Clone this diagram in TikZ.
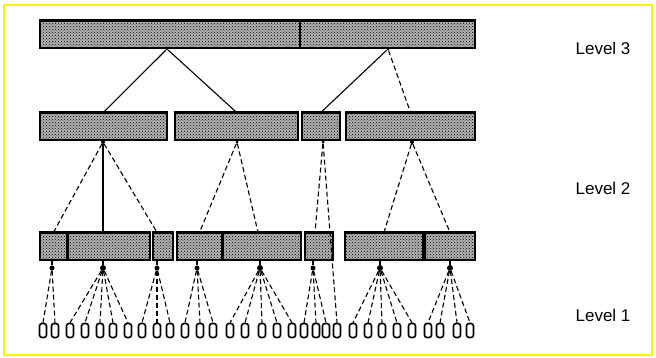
\documentclass[tikz,border=0pt]{standalone}
\usepackage{fontspec}
\setmainfont{Liberation Sans}
\usetikzlibrary{patterns, calc}

\begin{document}
\begin{tikzpicture}[x=1pt, y=-1pt,
    blk/.style={draw, line width=1.3pt, preaction={fill=black!30}, pattern=crosshatch dots, inner sep=0pt, minimum height=27pt},
    port/.style={circle, fill, inner sep=0pt, minimum size=#1},
    leaf/.style={draw, line width=1.6pt, rounded corners=2.5pt, inner sep=0pt, minimum width=7pt, minimum height=14pt},
    ptr/.style={line width=1.1pt},
    dptr/.style={line width=1.1pt, dash pattern=on 5pt off 3pt},
    lvl/.style={font=\fontsize{17}{17}\selectfont}]
  \useasboundingbox (0,0) rectangle (656,358);
  \draw[yellow, line width=2pt] (4,5) rectangle (652,355);
  \foreach \n/\l/\r/\t in {t3a/40/300/21, t3b/300/475/21,
      t2a/40/167/113, t2b/175/298/113, t2c/302/340/113, t2d/346/475/113,
      t1a/40/67/233, t1b/68/150/233, t1c/153/173/233, t1d/177/222/233,
      t1e/223/301/233, t1f/305/333/233, t1g/345/423/233, t1h/425/475/233} {
    \node[blk, minimum width={\r-\l}] (\n) at ({(\l+\r)/2},\t+13.5) {};
    \draw[line width=3pt] (\n.north west) -- (\n.north east);
  }
  \foreach \n/\x/\y/\s in {p3a/167/49/3pt, p3b/388/49/3pt,
      p2a/103/142/4pt, p2b/237/142/3pt, p2c/323/142/3pt, p2d/412/142/4pt,
      p1a/52/268/5pt, p1b/103/268/6pt, p1c/157/268/5pt, p1d/197/268/5pt,
      p1e/260/268/6pt, p1f/313/268/5pt, p1g/380/268/6pt, p1h/450/268/6pt}
    \node[port=\s] (\n) at (\x,\y) {};
  \foreach \x [count=\i] in {43,55,70,85,100,113,128,142,157,170,185,200,213,230,245,262,
      277,292,304,316,326,337,353,368,382,397,412,428,440,457,470}
    \node[leaf] (f\i) at (\x,330.5) {};
  % level 3 to level 2
  \draw[ptr] (p3a) -- (t2a.north);
  \draw[ptr] (p3a) -- (t2b.north);
  \draw[ptr] (p3b) -- (t2c.north);
  \draw[dptr] (p3b) -- (t2d.north);
  % level 2 to level 1
  \draw[dptr] (p2a) -- (t1a.north);
  \draw[ptr] (p2a) -- (p2a |- t1b.north);
  \draw[dptr] (p2a) -- ([xshift=-6pt]t1c.north);
  \draw[dptr] (p2b) -- (t1d.north);
  \draw[dptr] (p2b) -- ([xshift=-4pt]t1e.north);
  \draw[dptr] (p2c) -- ([xshift=-4pt]t1f.north);
  \draw[dptr] (p2c) -- (f22.north);
  \draw[dptr] (p2d) -- (t1g.north);
  \draw[dptr] (p2d) -- (t1h.north);
  % level 1 to leaves
  \foreach \p/\t/\a/\b in {p1a/t1a/1/2, p1b/t1b/3/7, p1c/t1c/8/10, p1d/t1d/11/13,
      p1e/t1e/14/18, p1f/t1f/19/21, p1g/t1g/23/27, p1h/t1h/28/31} {
    \draw[ptr] (\p |- \t.south) -- (\p);
    \foreach \i in {\a,...,\b}
      \draw[dptr] (\p) -- (f\i.north);
  }
  \node[lvl] (lv3) at (603,48) {Level 3};
  \node[lvl] (lv2) at (603,188) {Level 2};
  \node[lvl] (lv1) at (603,315) {Level 1};
\end{tikzpicture}
\end{document}
